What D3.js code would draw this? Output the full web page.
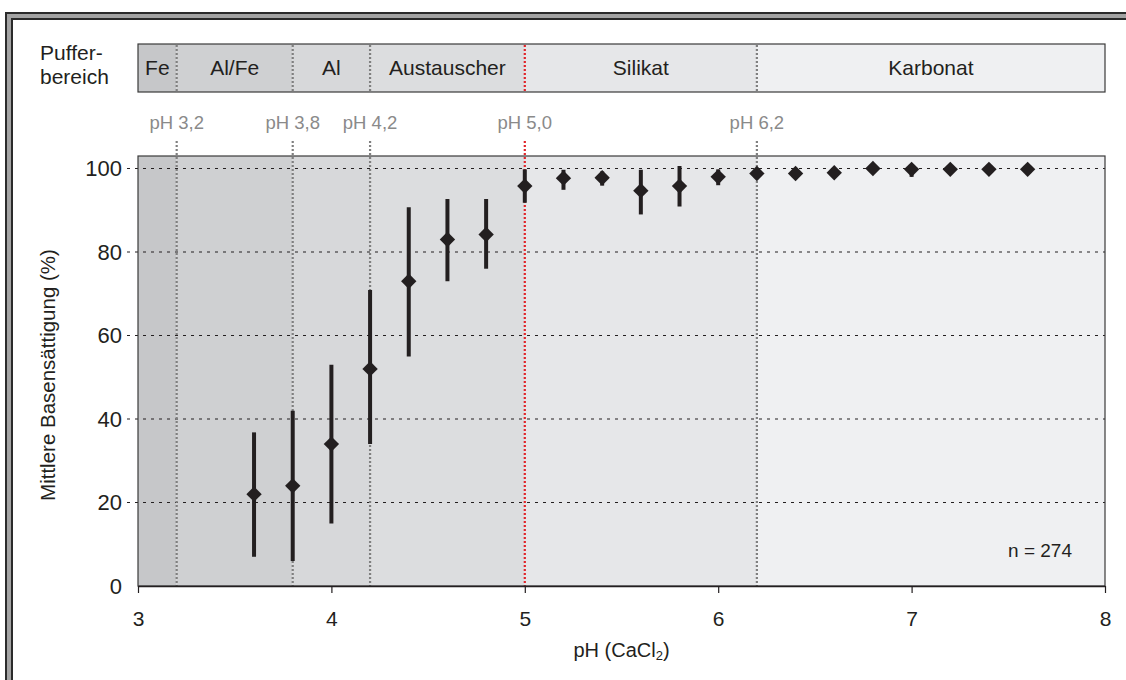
<!DOCTYPE html>
<html>
<head>
<meta charset="utf-8">
<script src="https://cdn.jsdelivr.net/npm/d3@7"></script>
<style>
  body { margin: 0; background: #fff; }
  text { font-family: "Liberation Sans", Arial, sans-serif; }
</style>
</head>
<body>
<script>
// data
const phValues = [3.6, 3.8, 4.0, 4.2, 4.4, 4.6, 4.8, 5.0, 5.2, 5.4, 5.6, 5.8, 6.0, 6.2, 6.4, 6.6, 6.8, 7.0, 7.2, 7.4, 7.6];
const meanBS   = [22, 24, 34, 52, 73, 83, 84.2, 95.8, 97.7, 97.8, 94.7, 95.8, 98, 98.8, 98.8, 99, 100, 99.8, 99.8, 99.8, 99.8];
const lowBS    = [7, 6, 15, 34, 55, 73, 76, 91.8, 94.9, 95.9, 89, 90.9, 96, 98, 98.2, 98.4, 99.2, 98, 99.2, 99.2, 99.2];
const highBS   = [36.8, 42, 53, 70.9, 90.7, 92.7, 92.7, 99.8, 99.7, 99.3, 99.7, 100.6, 99.8, 99.6, 99.4, 99.6, 100, 99.8, 99.8, 99.8, 99.8];

const zoneNames  = ["Fe", "Al/Fe", "Al", "Austauscher", "Silikat", "Karbonat"];
const zoneStarts = [3.0, 3.2, 3.8, 4.2, 5.0, 6.2];
const zoneEnds   = [3.2, 3.8, 4.2, 5.0, 6.2, 8.0];
const zoneColors = ["#c6c7c9", "#cfd0d2", "#d7d8da", "#dcdddf", "#e6e7e9", "#eff0f2"];

const boundaryValues = [3.2, 3.8, 4.2, 5.0, 6.2];
const boundaryLabels = ["pH 3,2", "pH 3,8", "pH 4,2", "pH 5,0", "pH 6,2"];

const xTicks = [3, 4, 5, 6, 7, 8];
const yTicks = [0, 20, 40, 60, 80, 100];

const W = 1126, H = 680;
const plot = {left: 138, right: 1105, top: 156, bottom: 586};
const band = {top: 44, bottom: 92};

const svg = d3.select("body").append("svg")
  .attr("width", W).attr("height", H);

// outer frame (runs off right/bottom edges)
svg.append("rect").attr("x", 9).attr("y", 16).attr("width", 1200).attr("height", 800)
  .attr("fill", "none").attr("stroke", "#2b2b2b").attr("stroke-width", 8);
svg.append("rect").attr("x", 9).attr("y", 16).attr("width", 1200).attr("height", 800)
  .attr("fill", "none").attr("stroke", "#a3a3a3").attr("stroke-width", 4);

const x = d3.scaleLinear().domain([3, 8]).range([plot.left, plot.right]);
const y = d3.scaleLinear().domain([0, 103]).range([plot.bottom, plot.top]);

// background zones in plot
svg.append("g").selectAll("rect").data(zoneNames).join("rect")
  .attr("x", (d, i) => x(zoneStarts[i]))
  .attr("y", plot.top)
  .attr("width", (d, i) => x(zoneEnds[i]) - x(zoneStarts[i]))
  .attr("height", plot.bottom - plot.top)
  .attr("fill", (d, i) => zoneColors[i]);

// buffer band at top
const bandG = svg.append("g");
bandG.selectAll("rect").data(zoneNames).join("rect")
  .attr("x", (d, i) => x(zoneStarts[i]))
  .attr("y", band.top)
  .attr("width", (d, i) => x(zoneEnds[i]) - x(zoneStarts[i]))
  .attr("height", band.bottom - band.top)
  .attr("fill", (d, i) => zoneColors[i]);
bandG.append("rect")
  .attr("x", plot.left).attr("y", band.top)
  .attr("width", plot.right - plot.left).attr("height", band.bottom - band.top)
  .attr("fill", "none").attr("stroke", "#3a3a3a").attr("stroke-width", 1.2);
bandG.selectAll("text").data(zoneNames).join("text")
  .attr("x", (d, i) => x((zoneStarts[i] + zoneEnds[i]) / 2))
  .attr("y", (band.top + band.bottom) / 2 + 7)
  .attr("text-anchor", "middle")
  .attr("font-size", 21)
  .attr("fill", "#231f20")
  .text(d => d);

svg.append("text").attr("x", 40).attr("y", 60).attr("font-size", 21).attr("fill", "#231f20").text("Puffer-");
svg.append("text").attr("x", 40).attr("y", 84).attr("font-size", 21).attr("fill", "#231f20").text("bereich");

// horizontal dotted grid
svg.append("g").selectAll("line").data(yTicks.filter(d => d > 0)).join("line")
  .attr("x1", plot.left - 11).attr("x2", plot.right)
  .attr("y1", d => y(d)).attr("y2", d => y(d))
  .attr("stroke", "#231f20").attr("stroke-width", 1.2)
  .attr("stroke-dasharray", "3,5");

// boundary lines
const isRed = v => v === 5.0;
const bg = svg.append("g");
bg.selectAll("line.in").data(boundaryValues).join("line")
  .attr("class", "in")
  .attr("x1", d => x(d)).attr("x2", d => x(d))
  .attr("y1", 141).attr("y2", plot.bottom)
  .attr("stroke", d => isRed(d) ? "#e0252b" : "#7f7f7f")
  .attr("stroke-width", 2.2)
  .attr("stroke-dasharray", "2,2");
bg.selectAll("line.band").data(boundaryValues).join("line")
  .attr("class", "band")
  .attr("x1", d => x(d)).attr("x2", d => x(d))
  .attr("y1", band.top + 1).attr("y2", band.bottom - 1)
  .attr("stroke", d => isRed(d) ? "#e0252b" : "#7f7f7f")
  .attr("stroke-width", 2.2)
  .attr("stroke-dasharray", "2,2");
bg.selectAll("text").data(boundaryValues).join("text")
  .attr("x", d => x(d))
  .attr("y", 129)
  .attr("text-anchor", "middle")
  .attr("font-size", 18.5)
  .attr("fill", "#8a8a8a")
  .text((d, i) => boundaryLabels[i]);

// plot frame
svg.append("rect")
  .attr("x", plot.left).attr("y", plot.top)
  .attr("width", plot.right - plot.left).attr("height", plot.bottom - plot.top)
  .attr("fill", "none").attr("stroke", "#3a3a3a").attr("stroke-width", 1.2);

// x axis
const xAxis = svg.append("g")
  .attr("transform", "translate(0," + plot.bottom + ")")
  .call(d3.axisBottom(x).tickValues(xTicks).tickFormat(d3.format("d")).tickSizeInner(7).tickSizeOuter(0).tickPadding(18));
xAxis.select(".domain").attr("stroke", "#231f20").attr("stroke-width", 1.5);
xAxis.selectAll(".tick line").attr("stroke", "#231f20").attr("stroke-width", 1.2);
xAxis.selectAll("text").attr("font-size", 21).attr("fill", "#231f20")
  .attr("font-family", "'Liberation Sans', Arial, sans-serif");

// y axis
const yAxis = svg.append("g")
  .attr("transform", "translate(" + plot.left + ",0)")
  .call(d3.axisLeft(y).tickValues(yTicks).tickSize(0).tickPadding(16));
yAxis.select(".domain").remove();
yAxis.selectAll("text").attr("font-size", 22).attr("fill", "#231f20")
  .attr("font-family", "'Liberation Sans', Arial, sans-serif");

// axis labels
const xl = svg.append("text")
  .attr("x", (plot.left + plot.right) / 2).attr("y", 657)
  .attr("text-anchor", "middle").attr("font-size", 20).attr("fill", "#231f20");
xl.append("tspan").text("pH (CaCl");
xl.append("tspan").attr("font-size", 13).attr("dy", 3).text("2");
xl.append("tspan").attr("dy", -3).text(")");

svg.append("text")
  .attr("transform", "translate(55," + ((plot.top + plot.bottom) / 2 + 4) + ") rotate(-90)")
  .attr("text-anchor", "middle").attr("font-size", 20.5).attr("fill", "#231f20")
  .text("Mittlere Basensättigung (%)");

// error bars
const pts = svg.append("g");
pts.selectAll("line").data(phValues).join("line")
  .attr("x1", d => x(d)).attr("x2", d => x(d))
  .attr("y1", (d, i) => y(lowBS[i])).attr("y2", (d, i) => y(highBS[i]))
  .attr("stroke", "#231f20").attr("stroke-width", 4);

// diamonds
pts.selectAll("path").data(phValues).join("path")
  .attr("d", d3.symbol().type(d3.symbolSquare).size(118))
  .attr("transform", (d, i) => "translate(" + x(d) + "," + y(meanBS[i]) + ") rotate(45)")
  .attr("fill", "#231f20");

svg.append("text").attr("x", 1040).attr("y", 557)
  .attr("text-anchor", "middle").attr("font-size", 19).attr("fill", "#231f20")
  .text("n = 274");
</script>
</body>
</html>
